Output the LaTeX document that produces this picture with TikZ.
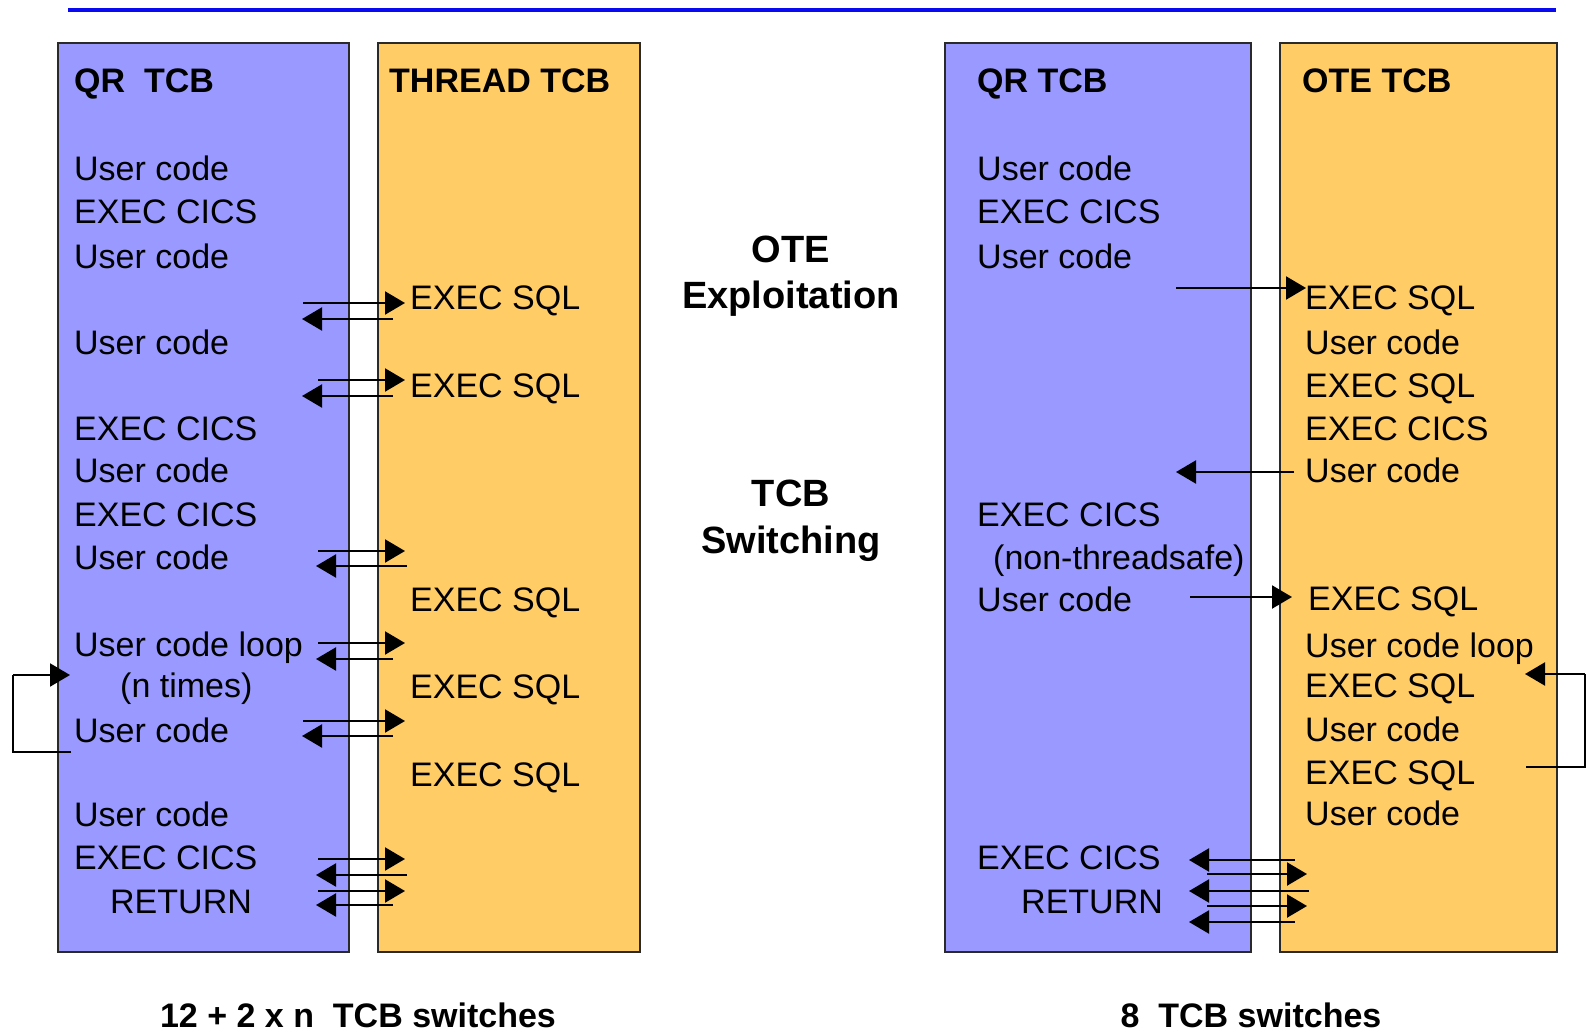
\documentclass[tikz,border=0pt]{standalone}
\usepackage{fontspec}
\setmainfont{Liberation Sans}
\usetikzlibrary{arrows.meta}
\definecolor{qrblue}{HTML}{9999FF}
\definecolor{teorange}{HTML}{FFCC66}
\definecolor{topline}{HTML}{0A0AF0}
\definecolor{edge}{HTML}{2A2A2A}
\tikzset{
  panel/.style={draw=edge, line width=2.2pt, anchor=north west, inner sep=0pt, minimum height=909pt},
  qrpanel/.style={panel, fill=qrblue},
  tcbpanel/.style={panel, fill=teorange},
  txt/.style={anchor=base west, inner sep=0pt, font=\fontsize{34}{40}\selectfont},
  ttl/.style={anchor=base west, inner sep=0pt, font=\fontsize{34}{40}\selectfont\bfseries},
  mid/.style={anchor=base, inner sep=0pt, font=\fontsize{38}{44}\selectfont\bfseries},
  foot/.style={anchor=base, inner sep=0pt, font=\fontsize{34}{40}\selectfont\bfseries},
  arr/.style={line width=2.2pt, -{Triangle[length=20pt,width=23pt]}},
  loopline/.style={line width=2.2pt}
}
\begin{document}
\begin{tikzpicture}[x=1pt,y=-1pt]
\path[use as bounding box, fill=white] (0,0) rectangle (1592,1032);
% top rule
\coordinate (tl) at (68,10);
\coordinate (tr) at (1556,10);
\draw[topline, line width=3.5pt] (tl) -- (tr);
% panels
\node[qrpanel, minimum width=291pt] (qrL) at (57,42) {};
\node[tcbpanel, minimum width=262pt] (thr) at (377,42) {};
\node[qrpanel, minimum width=306pt] (qrR) at (944,42) {};
\node[tcbpanel, minimum width=277pt] (ote) at (1279,42) {};
% left QR texts
\node[ttl] (l0) at (74,93) {QR\ \ TCB};
\node[txt] (l1) at (74,181) {User code};
\node[txt] (l2) at (74,224) {EXEC CICS};
\node[txt] (l3) at (74,269) {User code};
\node[txt] (l4) at (74,354) {User code};
\node[txt] (l5) at (74,440) {EXEC CICS};
\node[txt] (l6) at (74,482) {User code};
\node[txt] (l7) at (74,526) {EXEC CICS};
\node[txt] (l8) at (74,569) {User code};
\node[txt] (l9) at (74,656) {User code loop};
\node[txt] (l10) at (120,697) {(n times)};
\node[txt] (l11) at (74,742) {User code};
\node[txt] (l12) at (74,826) {User code};
\node[txt] (l13) at (74,869) {EXEC CICS};
\node[txt] (l14) at (110,913) {RETURN};
% thread texts
\node[ttl] (t0) at (389,93) {THREAD TCB};
\node[txt] (t1) at (410,309) {EXEC SQL};
\node[txt] (t2) at (410,397) {EXEC SQL};
\node[txt] (t3) at (410,611) {EXEC SQL};
\node[txt] (t4) at (410,698) {EXEC SQL};
\node[txt] (t5) at (410,786) {EXEC SQL};
% right QR texts
\node[ttl] (r0) at (977,93) {QR TCB};
\node[txt] (r1) at (977,181) {User code};
\node[txt] (r2) at (977,224) {EXEC CICS};
\node[txt] (r3) at (977,269) {User code};
\node[txt] (r4) at (977,526) {EXEC CICS};
\node[txt] (r5) at (993,569) {(non-threadsafe)};
\node[txt] (r6) at (977,611) {User code};
\node[txt] (r7) at (977,869) {EXEC CICS};
\node[txt] (r8) at (1021,913) {RETURN};
% OTE texts
\node[ttl] (o0) at (1302,93) {OTE TCB};
\node[txt] (o1) at (1305,309) {EXEC SQL};
\node[txt] (o2) at (1305,354) {User code};
\node[txt] (o3) at (1305,397) {EXEC SQL};
\node[txt] (o4) at (1305,440) {EXEC CICS};
\node[txt] (o5) at (1305,482) {User code};
\node[txt] (o6) at (1308,610) {EXEC SQL};
\node[txt] (o7) at (1305,657) {User code loop};
\node[txt] (o8) at (1305,697) {EXEC SQL};
\node[txt] (o9) at (1305,741) {User code};
\node[txt] (o10) at (1305,784) {EXEC SQL};
\node[txt] (o11) at (1305,825) {User code};
% middle
\node[mid] (m1) at (791,262) {OTE};
\node[mid] (m2) at (791,308) {Exploitation};
\node[mid] (m3) at (791,506) {TCB};
\node[mid] (m4) at (791,553) {Switching};
% footer
\node[foot] (f1) at (358,1027) {12 + 2 x n\ \ TCB switches};
\node[foot] (f2) at (1251,1027) {8\ \ TCB switches};
% left arrows
\coordinate (a1s) at (303,303); \coordinate (a1e) at (405,303);
\coordinate (b1s) at (393,319); \coordinate (b1e) at (302,319);
\coordinate (a2s) at (318,380); \coordinate (a2e) at (405,380);
\coordinate (b2s) at (393,396); \coordinate (b2e) at (302,396);
\coordinate (a3s) at (318,551); \coordinate (a3e) at (405,551);
\coordinate (b3s) at (407,566); \coordinate (b3e) at (316,566);
\coordinate (a4s) at (318,643); \coordinate (a4e) at (405,643);
\coordinate (b4s) at (393,659); \coordinate (b4e) at (316,659);
\coordinate (a5s) at (303,721); \coordinate (a5e) at (405,721);
\coordinate (b5s) at (393,736); \coordinate (b5e) at (302,736);
\coordinate (a6s) at (318,859); \coordinate (a6e) at (405,859);
\coordinate (b6s) at (407,875); \coordinate (b6e) at (316,875);
\coordinate (a7s) at (318,891); \coordinate (a7e) at (405,891);
\coordinate (b7s) at (393,905); \coordinate (b7e) at (316,905);
\foreach \p in {a1,b1,a2,b2,a3,b3,a4,b4,a5,b5,a6,b6,a7,b7}
  \draw[arr] (\p s) -- (\p e);
% left loop
\coordinate (lp1) at (71,752);
\coordinate (lp2) at (13,752);
\coordinate (lp3) at (13,675);
\coordinate (lp4) at (70,675);
\draw[loopline] (lp1) -- (lp2) -- (lp3);
\draw[arr] (lp3) -- (lp4);
% right arrows
\coordinate (c1s) at (1176,288); \coordinate (c1e) at (1306,288);
\coordinate (c2s) at (1294,472); \coordinate (c2e) at (1176,472);
\coordinate (c3s) at (1190,597); \coordinate (c3e) at (1292,597);
\coordinate (d1s) at (1295,860); \coordinate (d1e) at (1189,860);
\coordinate (d2s) at (1207,874); \coordinate (d2e) at (1307,874);
\coordinate (d3s) at (1309,891); \coordinate (d3e) at (1189,891);
\coordinate (d4s) at (1207,906); \coordinate (d4e) at (1307,906);
\coordinate (d5s) at (1295,922); \coordinate (d5e) at (1189,922);
\foreach \p in {c1,c2,c3,d1,d2,d3,d4,d5}
  \draw[arr] (\p s) -- (\p e);
% right loop
\coordinate (rp1) at (1526,767);
\coordinate (rp2) at (1585,767);
\coordinate (rp3) at (1585,674);
\coordinate (rp4) at (1525,674);
\draw[loopline] (rp1) -- (rp2) -- (rp3);
\draw[arr] (rp3) -- (rp4);
\end{tikzpicture}
\end{document}
